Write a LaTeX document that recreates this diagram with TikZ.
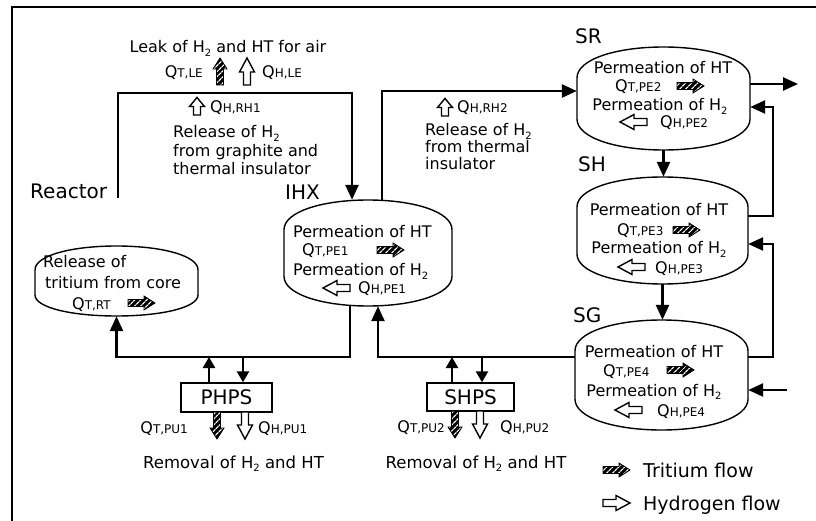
\documentclass[tikz,border=0pt]{standalone}
\usepackage{fontspec}
\setmainfont{DejaVu Sans}
\usetikzlibrary{arrows.meta,patterns.meta}

% small lowered index, as in H2
\newcommand\hsub[1]{\raisebox{-0.35ex}{\fontsize{10}{10}\selectfont #1}}
% flow quantity Q with its two indices
\newcommand\qlab[2]{{\fontsize{16}{16}\selectfont Q}{\fontsize{12}{12}\selectfont #1,#2}}

\tikzset{
  flowarrow/.style={line width=2.5pt,-{Triangle[length=15pt,width=13pt]}},
  shortarrow/.style={line width=2.5pt,-{Triangle[length=11pt,width=12pt]}},
  barrel line/.style={line width=1.4pt},
  vessel/.style={rectangle,draw=none,inner sep=0pt},
  unitbox/.style={rectangle,draw,line width=1.4pt,inner sep=0pt,font=\fontsize{20}{20}\selectfont},
  txt/.style={inner sep=0pt,font=\fontsize{16}{16}\selectfont},
  lbl/.style={inner sep=0pt,font=\fontsize{20}{20}\selectfont},
  legtxt/.style={inner sep=0pt,font=\fontsize{19}{19}\selectfont},
  tflow/.pic={\path[preaction={fill=black},pattern={Lines[angle=45,distance=4pt,line width=1.3pt]},
      pattern color=white,draw=black,line width=0.8pt]
      (0,-3.5) -- (16,-3.5) -- (16,-7) -- (27,0) -- (16,7) -- (16,3.5) -- (0,3.5) -- cycle;},
  hflow/.pic={\draw[line width=1.4pt,fill=white,line join=miter]
      (0,-3.5) -- (13,-3.5) -- (13,-7.5) -- (27,0) -- (13,7.5) -- (13,3.5) -- (0,3.5) -- cycle;},
}

% barrel-shaped component: name, centre x, centre y, width, height, top bulge, bottom bulge
\newcommand\barrel[7]{%
  \node[vessel,minimum width=#4pt,minimum height=#5pt] (#1) at (#2,#3) {};
  \pgfmathsetmacro\BrlL{#2-#4/2}\pgfmathsetmacro\BrlR{#2+#4/2}%
  \pgfmathsetmacro\BrlT{#3-#5/2}\pgfmathsetmacro\BrlB{#3+#5/2}%
  \pgfmathsetmacro\BrlSa{\BrlT+#6*#5}\pgfmathsetmacro\BrlSb{\BrlB-#7*#5}%
  \pgfmathsetmacro\BrlCa{\BrlSa-0.6*(\BrlSa-\BrlT)}%
  \pgfmathsetmacro\BrlCb{\BrlSb+0.6*(\BrlB-\BrlSb)}%
  \pgfmathsetmacro\BrlXa{#2-0.55*#4/2}\pgfmathsetmacro\BrlXb{#2+0.55*#4/2}%
  \draw[barrel line] (\BrlL,\BrlSa) .. controls (\BrlL,\BrlCa) and (\BrlXa,\BrlT) .. (#2,\BrlT)
    .. controls (\BrlXb,\BrlT) and (\BrlR,\BrlCa) .. (\BrlR,\BrlSa) -- (\BrlR,\BrlSb)
    .. controls (\BrlR,\BrlCb) and (\BrlXb,\BrlB) .. (#2,\BrlB)
    .. controls (\BrlXa,\BrlB) and (\BrlL,\BrlCb) .. (\BrlL,\BrlSb) -- cycle;}

\begin{document}
\begin{tikzpicture}[x=1pt,y=-1pt]
\useasboundingbox (0,0) rectangle (816,521);

% frame
\draw[line width=1.1pt] (12,521) -- (12,7) -- (816,7);

% components
\barrel{reactor}{116.5}{281}{163}{70}{0.34}{0.3}
\barrel{ihx}{368}{253}{168}{106}{0.28}{0.28}
\barrel{sr}{663.5}{98.5}{173}{103}{0.3}{0.3}
\barrel{sh}{662.5}{230.5}{171}{107}{0.28}{0.28}
\barrel{sg}{661.5}{375}{173}{110}{0.28}{0.28}

\node[unitbox,minimum width=91pt,minimum height=29pt] (phps) at (226.5,397.5) {PHPS};
\node[unitbox,minimum width=87pt,minimum height=28pt] (shps) at (470.5,397) {SHPS};

% component labels
\node[lbl,anchor=base west] (reactorlbl) at (30,199) {Reactor};
\node[lbl,anchor=base west] (ihxlbl) at (285,200) {IHX};
\node[lbl,anchor=base west] (srlbl) at (575,44) {SR};
\node[lbl,anchor=base west] (shlbl) at (578,172) {SH};
\node[lbl,anchor=base west] (sglbl) at (573,322) {SG};

% primary loop
\coordinate (rv) at (118,198);
\coordinate (lt) at (352,93);
\draw[flowarrow] (rv) |- (lt) -- (lt |- ihx.north);
\coordinate (ld) at (350,357);
\draw[flowarrow] (ld |- ihx.south) -- (ld) -| (reactor.south);
\coordinate (pu) at (209,357);
\coordinate (pd) at (243,357);
\draw[shortarrow] (pu |- phps.north) -- (pu);
\draw[shortarrow] (pd) -- (pd |- phps.north);

% secondary loop
\coordinate (ru) at (382,91);
\draw[flowarrow] (ru |- ihx.north) -- (ru) -- (ru -| sr.west);
\coordinate (rl) at (378,357);
\draw[flowarrow] (sg.west |- rl) -- (rl) -- (rl |- ihx.south);
\coordinate (su) at (452,357);
\coordinate (sd) at (482,357);
\draw[shortarrow] (su |- shps.north) -- (su);
\draw[shortarrow] (sd) -- (sd |- shps.north);

% steam side
\draw[flowarrow] (sr.south) -- (sr.south |- sh.north);
\draw[flowarrow] (sh.south) -- (sh.south |- sg.north);
\coordinate (srout) at (798,84);
\draw[flowarrow] (sr.east |- srout) -- (srout);
\coordinate (c1) at (773,216);
\coordinate (c2) at (773,107);
\draw[flowarrow] (sh.east |- c1) -- (c1) -- (c2) -- (c2 -| sr.east);
\coordinate (c3) at (773,357);
\coordinate (c4) at (773,244);
\draw[flowarrow] (sg.east |- c3) -- (c3) -- (c4) -- (c4 -| sh.east);
\coordinate (sgin) at (787,390);
\draw[flowarrow] (sgin) -- (sgin -| sg.east);

% leak to air
\node[txt,anchor=base] (leak) at (228,53) {Leak of H\hsub{2} and HT for air};
\node[txt,anchor=base east] (qtle) at (203,78) {\qlab{T}{LE}};
\pic[rotate=90] at (220,85) {tflow};
\pic[rotate=90] at (247,85) {hflow};
\node[txt,anchor=base west] (qhle) at (262,78) {\qlab{H}{LE}};

% release from graphite
\pic[rotate=90,xscale=0.65] at (197,115) {hflow};
\node[txt,anchor=base west] (qhrh1) at (210,113) {\qlab{H}{RH1}};
\node[txt,anchor=base west] (rel1a) at (173,138) {Release of H\hsub{2}};
\node[txt,anchor=base west] (rel1b) at (173,156.5) {from graphite and};
\node[txt,anchor=base west] (rel1c) at (173,175) {thermal insulator};

% release from insulator
\pic[rotate=90,xscale=0.65] at (445,116) {hflow};
\node[txt,anchor=base west] (qhrh2) at (457,113) {\qlab{H}{RH2}};
\node[txt,anchor=base west] (rel2a) at (425,136) {Release of H\hsub{2}};
\node[txt,anchor=base west] (rel2b) at (425,153) {from thermal};
\node[txt,anchor=base west] (rel2c) at (425,170) {insulator};

% reactor core
\node[txt,anchor=base west] (core1) at (43,268) {Release of};
\node[txt,anchor=base west] (core2) at (45,288) {tritium from core};
\node[txt,anchor=base west] (qtrt) at (72,309) {\qlab{T}{RT}};
\pic at (128,303) {tflow};

% IHX
\node[txt,anchor=base west] (ihx1) at (293,238) {Permeation of HT};
\node[txt,anchor=base west] (qtpe1) at (302,256) {\qlab{T}{PE1}};
\pic at (377,250) {tflow};
\node[txt,anchor=base west] (ihx2) at (293,276) {Permeation of H\hsub{2}};
\pic[rotate=180] at (350,288) {hflow};
\node[txt,anchor=base west] (qhpe1) at (358,294) {\qlab{H}{PE1}};

% SR
\node[txt,anchor=base] (sr1) at (663,74) {Permeation of HT};
\node[txt,anchor=base west] (qtpe2) at (615,92) {\qlab{T}{PE2}};
\pic at (677,86) {tflow};
\node[txt,anchor=base] (sr2) at (660,111) {Permeation of H\hsub{2}};
\pic[rotate=180] at (647,122) {hflow};
\node[txt,anchor=base west] (qhpe2) at (660,128) {\qlab{H}{PE2}};

% SH
\node[txt,anchor=base] (sh1) at (659,216) {Permeation of HT};
\node[txt,anchor=base west] (qtpe3) at (617,236) {\qlab{T}{PE3}};
\pic at (673,230) {tflow};
\node[txt,anchor=base] (sh2) at (659,254) {Permeation of H\hsub{2}};
\pic[rotate=180] at (645,267) {hflow};
\node[txt,anchor=base west] (qhpe3) at (655,273) {\qlab{H}{PE3}};

% SG
\node[txt,anchor=base] (sg1) at (654,357) {Permeation of HT};
\node[txt,anchor=base west] (qtpe4) at (603,376) {\qlab{T}{PE4}};
\pic at (667,370) {tflow};
\node[txt,anchor=base] (sg2) at (654,396) {Permeation of H\hsub{2}};
\pic[rotate=180] at (642,410) {hflow};
\node[txt,anchor=base west] (qhpe4) at (657,416) {\qlab{H}{PE4}};

% purification systems
\pic[rotate=-90] at (217,412) {tflow};
\pic[rotate=-90] at (245,412) {hflow};
\node[txt,anchor=base east] (qtpu1) at (188,433) {\qlab{T}{PU1}};
\node[txt,anchor=base west] (qhpu1) at (258,433) {\qlab{H}{PU1}};
\node[txt,anchor=base,font=\fontsize{16.5}{16.5}\selectfont] (rem1) at (233.5,468) {Removal of H\hsub{2} and HT};

\pic[rotate=-90] at (455,411) {tflow};
\pic[rotate=-90] at (480,411) {hflow};
\node[txt,anchor=base east] (qtpu2) at (445,432) {\qlab{T}{PU2}};
\node[txt,anchor=base west] (qhpu2) at (500,432) {\qlab{H}{PU2}};
\node[txt,anchor=base,font=\fontsize{16.5}{16.5}\selectfont] (rem2) at (476,468) {Removal of H\hsub{2} and HT};

% legend
\pic at (603,470) {tflow};
\node[legtxt,anchor=base west] (legt) at (643,477) {Tritium flow};
\pic at (603,503) {hflow};
\node[legtxt,anchor=base west] (legh) at (643,510) {Hydrogen flow};
\end{tikzpicture}
\end{document}
